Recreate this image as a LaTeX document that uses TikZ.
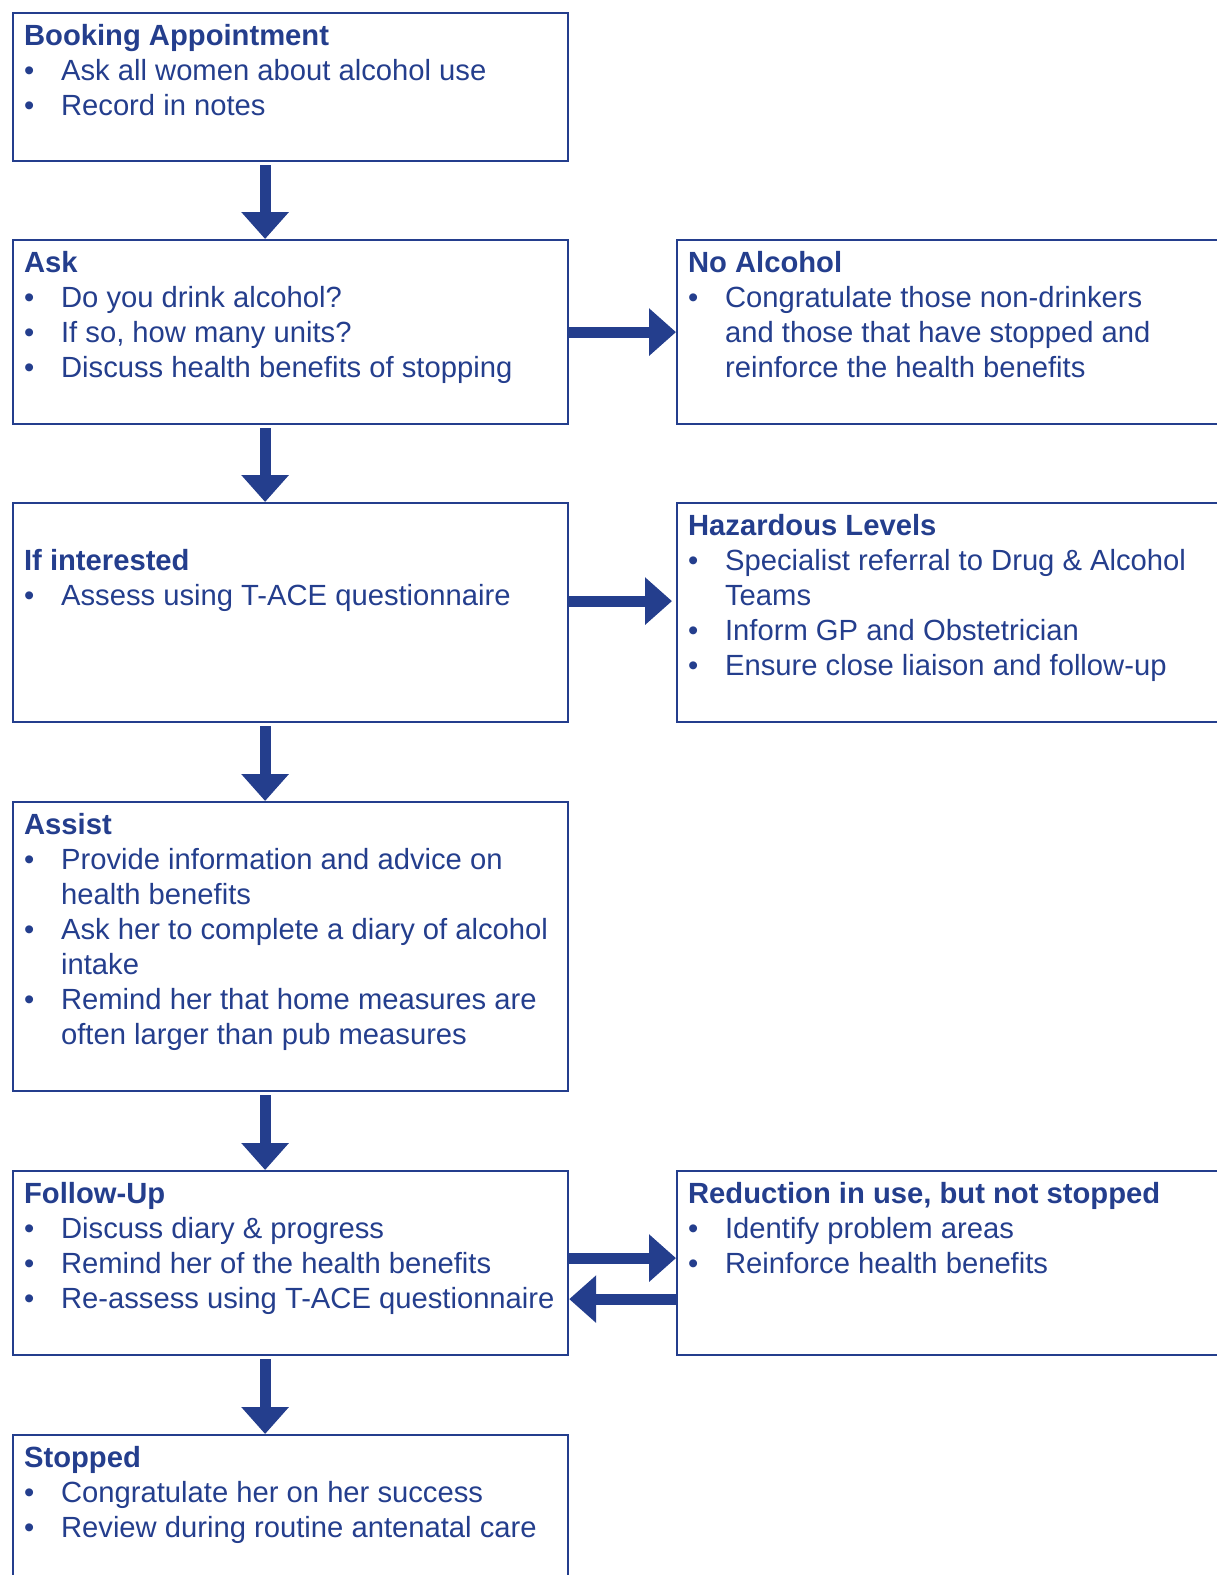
\documentclass[tikz,border=0pt]{standalone}
\usepackage{fontspec}
\setmainfont{Liberation Sans}
\usetikzlibrary{arrows.meta,positioning}
\definecolor{nhsblue}{RGB}{36,62,141}

% box body: fixed width and height, text from the top
\newcommand{\stagetext}[3]{\parbox[t][#2][t]{#1}{\begin{minipage}[t]{800pt}\strut #3\end{minipage}}}
\newcommand{\bul}{\par\noindent\hangindent=37pt\hangafter=1\hbox to 37pt{\textbullet\hfil}\ignorespaces}

\tikzset{
  stage/.style={draw=nhsblue, line width=2.2pt, anchor=north west, inner xsep=11pt, inner ysep=7.5pt,
    text=nhsblue, align=left, font=\fontsize{29.2}{35}\selectfont},
  flow/.style={draw=nhsblue, line width=11pt, -{Triangle[width=46pt,length=27pt]}}
}

\begin{document}
\begin{tikzpicture}[x=1pt,y=-1pt]
\useasboundingbox (0,0) rectangle (1217,1575);
\clip (0,0) rectangle (1217,1575);

% left column
\node[stage] (book) at (12,12) {\stagetext{533pt}{133pt}{\textbf{Booking Appointment}
  \bul Ask all women about alcohol use
  \bul Record in notes}};
\node[stage] (ask) at (12,239) {\stagetext{533pt}{169pt}{\textbf{Ask}
  \bul Do you drink alcohol?
  \bul If so, how many units?
  \bul Discuss health benefits of stopping}};
\node[stage] (interest) at (12,502) {\stagetext{533pt}{204pt}{\mbox{}\par\textbf{If interested}
  \bul Assess using T-ACE questionnaire}};
\node[stage] (assist) at (12,801) {\stagetext{533pt}{274pt}{\textbf{Assist}
  \bul Provide information and advice on\\health benefits
  \bul Ask her to complete a diary of alcohol\\intake
  \bul Remind her that home measures are\\often larger than pub measures}};
\node[stage] (follow) at (12,1170) {\stagetext{533pt}{169pt}{\textbf{Follow-Up}
  \bul Discuss diary \& progress
  \bul Remind her of the health benefits
  \bul Re-assess using T-ACE questionnaire}};
\node[stage] (stopped) at (12,1434) {\stagetext{533pt}{205pt}{\textbf{Stopped}
  \bul Congratulate her on her success
  \bul Review during routine antenatal care}};

% right column
\node[stage] (noalc) at (676,239) {\stagetext{598pt}{169pt}{\textbf{No Alcohol}
  \bul Congratulate those non-drinkers\\and those that have stopped and\\reinforce the health benefits}};
\node[stage] (hazard) at (676,502) {\stagetext{598pt}{204pt}{\textbf{Hazardous Levels}
  \bul Specialist referral to Drug \& Alcohol\\Teams
  \bul Inform GP and Obstetrician
  \bul Ensure close liaison and follow-up}};
\node[stage] (reduce) at (676,1170) {\stagetext{598pt}{169pt}{\textbf{Reduction in use, but not stopped}
  \bul Identify problem areas
  \bul Reinforce health benefits}};

% arrows down
\draw[flow, shorten <=3pt] ([xshift=-25.5pt]book.south) -- ([xshift=-25.5pt]ask.north);
\draw[flow, shorten <=3pt] ([xshift=-25.5pt]ask.south) -- ([xshift=-25.5pt]interest.north);
\draw[flow, shorten <=3pt] ([xshift=-25.5pt]interest.south) -- ([xshift=-25.5pt]assist.north);
\draw[flow, shorten <=3pt] ([xshift=-25.5pt]assist.south) -- ([xshift=-25.5pt]follow.north);
\draw[flow, shorten <=3pt] ([xshift=-25.5pt]follow.south) -- ([xshift=-25.5pt]stopped.north);

% arrows across
\draw[flow] (ask.east) -- (noalc.west);
\draw[flow, shorten >=4pt] ([yshift=11.5pt]interest.east) -- ([yshift=11.5pt]hazard.west);
\draw[flow] ([yshift=5pt]follow.east) -- ([yshift=5pt]reduce.west);
\draw[flow] ([yshift=-36pt]reduce.west) -- ([yshift=-36pt]follow.east);
\end{tikzpicture}
\end{document}
